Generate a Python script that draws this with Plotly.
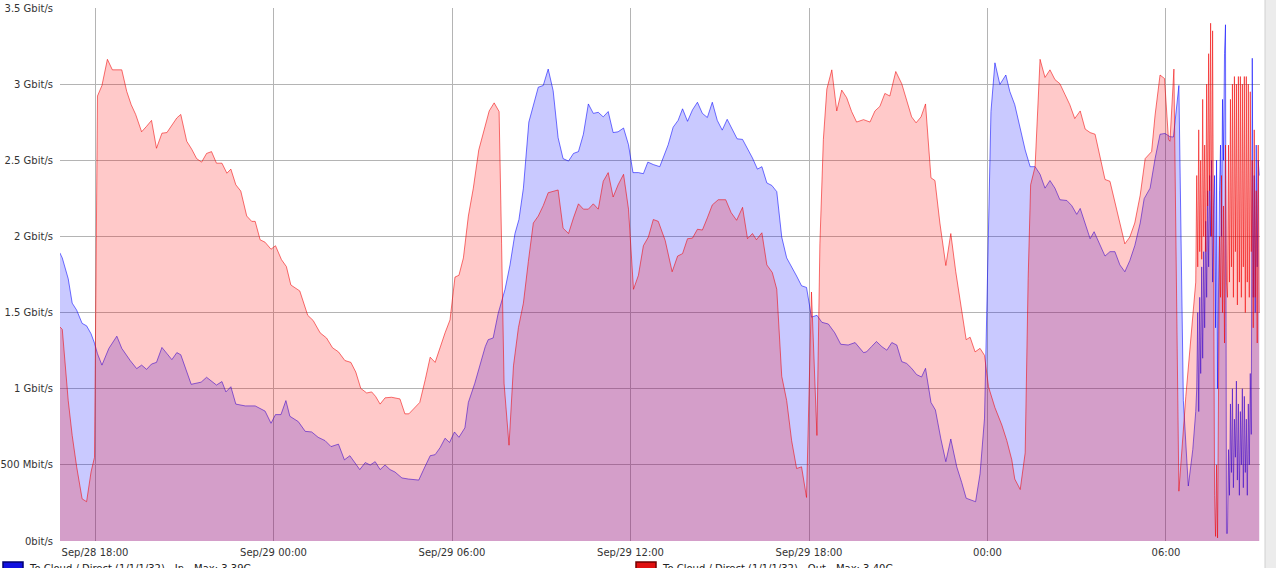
import pandas as pd
import plotly.graph_objects as go

YEAR = "2023-"

# ---------------- data (Gbit/s) ----------------
in_times = [
    "09-28 16:49", "09-28 16:54", "09-28 17:06", "09-28 17:14", "09-28 17:23", "09-28 17:34", "09-28 17:43",
    "09-28 17:52", "09-28 17:59", "09-28 18:05", "09-28 18:14", "09-28 18:28", "09-28 18:44", "09-28 18:54",
    "09-28 19:11", "09-28 19:24", "09-28 19:34", "09-28 19:44", "09-28 19:54", "09-28 20:04", "09-28 20:15",
    "09-28 20:25", "09-28 20:35", "09-28 20:45", "09-28 20:53", "09-28 21:14", "09-28 21:34", "09-28 21:45",
    "09-28 21:55", "09-28 22:05", "09-28 22:16", "09-28 22:24", "09-28 22:34", "09-28 22:44", "09-28 23:03",
    "09-28 23:23", "09-28 23:43", "09-28 23:55",
    "09-29 00:04", "09-29 00:15", "09-29 00:25", "09-29 00:33", "09-29 00:50", "09-29 01:04", "09-29 01:17",
    "09-29 01:30", "09-29 01:44", "09-29 01:56", "09-29 02:11", "09-29 02:23", "09-29 02:34", "09-29 02:44",
    "09-29 02:54", "09-29 03:05", "09-29 03:15", "09-29 03:25", "09-29 03:35", "09-29 03:45", "09-29 03:55",
    "09-29 04:05", "09-29 04:19", "09-29 04:32", "09-29 04:53", "09-29 05:02", "09-29 05:16", "09-29 05:26",
    "09-29 05:36", "09-29 05:46", "09-29 05:55", "09-29 06:05", "09-29 06:14", "09-29 06:26", "09-29 06:33",
    "09-29 06:46", "09-29 06:56", "09-29 07:07", "09-29 07:13", "09-29 07:23", "09-29 07:33", "09-29 07:47",
    "09-29 07:57", "09-29 08:07", "09-29 08:15", "09-29 08:24", "09-29 08:35", "09-29 08:44", "09-29 08:54",
    "09-29 09:04", "09-29 09:14", "09-29 09:24", "09-29 09:34", "09-29 09:44", "09-29 09:55", "09-29 10:05",
    "09-29 10:15", "09-29 10:25", "09-29 10:35", "09-29 10:45", "09-29 10:55", "09-29 11:05", "09-29 11:15",
    "09-29 11:25", "09-29 11:35", "09-29 11:46", "09-29 11:56", "09-29 12:05", "09-29 12:16", "09-29 12:26",
    "09-29 12:35", "09-29 12:46", "09-29 12:59", "09-29 13:16", "09-29 13:26", "09-29 13:36", "09-29 13:45",
    "09-29 13:55", "09-29 14:05", "09-29 14:15", "09-29 14:25", "09-29 14:35", "09-29 14:45", "09-29 14:55",
    "09-29 15:05", "09-29 15:15", "09-29 15:25", "09-29 15:35", "09-29 15:46", "09-29 15:56", "09-29 16:06",
    "09-29 16:16", "09-29 16:25", "09-29 16:35", "09-29 16:45", "09-29 16:55", "09-29 17:05", "09-29 17:15",
    "09-29 17:25", "09-29 17:35", "09-29 17:45", "09-29 17:55", "09-29 18:05", "09-29 18:16", "09-29 18:26",
    "09-29 18:39", "09-29 18:52", "09-29 19:04", "09-29 19:19", "09-29 19:33", "09-29 19:50", "09-29 19:56",
    "09-29 20:06", "09-29 20:16", "09-29 20:27", "09-29 20:37", "09-29 20:47", "09-29 20:57", "09-29 21:07",
    "09-29 21:17", "09-29 21:27", "09-29 21:37", "09-29 21:47", "09-29 21:55", "09-29 22:06", "09-29 22:15",
    "09-29 22:26", "09-29 22:36", "09-29 22:46", "09-29 22:58", "09-29 23:08", "09-29 23:17", "09-29 23:36",
    "09-29 23:45", "09-29 23:54",
    "09-30 00:02", "09-30 00:07", "09-30 00:15", "09-30 00:25", "09-30 00:37", "09-30 00:45", "09-30 00:55",
    "09-30 01:06", "09-30 01:16", "09-30 01:26", "09-30 01:36", "09-30 01:46", "09-30 01:56", "09-30 02:06",
    "09-30 02:16", "09-30 02:26", "09-30 02:40", "09-30 02:50", "09-30 03:00", "09-30 03:07", "09-30 03:17",
    "09-30 03:27", "09-30 03:35", "09-30 03:44", "09-30 03:57", "09-30 04:07", "09-30 04:17", "09-30 04:27",
    "09-30 04:37", "09-30 04:47", "09-30 04:57", "09-30 05:08", "09-30 05:16", "09-30 05:28", "09-30 05:38",
    "09-30 05:48", "09-30 05:58", "09-30 06:08", "09-30 06:15", "09-30 06:26", "09-30 06:35", "09-30 06:45",
    "09-30 06:54", "09-30 07:00",
]
in_values = [
    1.893, 1.859, 1.722, 1.562, 1.516, 1.429, 1.413,
    1.361, 1.299, 1.230, 1.155, 1.265, 1.345, 1.265,
    1.185, 1.132, 1.155, 1.127, 1.162, 1.173, 1.271,
    1.230, 1.191, 1.237, 1.223, 1.029, 1.043, 1.075,
    1.052, 1.024, 1.047, 0.979, 1.013, 0.899, 0.887,
    0.887, 0.853, 0.773,
    0.830, 0.830, 0.922, 0.819, 0.784, 0.720, 0.716,
    0.681, 0.659, 0.620, 0.636, 0.533, 0.560, 0.510,
    0.469, 0.515, 0.499, 0.521, 0.469, 0.499, 0.469,
    0.453, 0.414, 0.407, 0.400, 0.464, 0.560, 0.567,
    0.613, 0.675, 0.647, 0.716, 0.681, 0.743, 0.910,
    1.036, 1.150, 1.276, 1.322, 1.333, 1.493, 1.653,
    1.813, 2.019, 2.111, 2.317, 2.751, 2.865, 2.980,
    2.991, 3.099, 2.957, 2.648, 2.511, 2.495, 2.545,
    2.557, 2.671, 2.870, 2.808, 2.815, 2.785, 2.820,
    2.682, 2.687, 2.712, 2.602, 2.419, 2.419, 2.412,
    2.488, 2.472, 2.458, 2.602, 2.717, 2.762, 2.838,
    2.756, 2.831, 2.881, 2.808, 2.781, 2.881, 2.762,
    2.698, 2.769, 2.705, 2.641, 2.637, 2.579, 2.515,
    2.442, 2.458, 2.351, 2.335, 2.294, 1.996, 1.859,
    1.802, 1.740, 1.676, 1.665, 1.470, 1.482, 1.436,
    1.425, 1.367, 1.292, 1.287, 1.303, 1.237, 1.242,
    1.276, 1.310, 1.276, 1.253, 1.303, 1.287, 1.178,
    1.166, 1.134, 1.093, 1.077, 1.134, 0.910, 0.860,
    0.670, 0.521, 0.670, 0.487, 0.384, 0.281, 0.258,
    0.441, 0.807,
    1.951, 2.820, 3.140, 2.998, 3.060, 2.952, 2.865,
    2.705, 2.568, 2.458, 2.458, 2.408, 2.317, 2.367,
    2.317, 2.241, 2.236, 2.202, 2.145, 2.184, 2.088,
    1.985, 2.031, 1.962, 1.871, 1.900, 1.900, 1.813,
    1.768, 1.841, 1.939, 2.088, 2.248, 2.317, 2.511,
    2.671, 2.676, 2.655, 2.653, 2.991, 0.922, 0.361,
    0.600, 0.850,
]

out_times = [
    "09-28 16:49", "09-28 16:54", "09-28 17:06", "09-28 17:14", "09-28 17:23", "09-28 17:34", "09-28 17:43",
    "09-28 17:52", "09-28 17:59", "09-28 18:05", "09-28 18:14", "09-28 18:25", "09-28 18:35", "09-28 18:54",
    "09-28 19:04", "09-28 19:13", "09-28 19:22", "09-28 19:34", "09-28 19:44", "09-28 19:54", "09-28 20:04",
    "09-28 20:15", "09-28 20:25", "09-28 20:35", "09-28 20:45", "09-28 20:53", "09-28 21:05", "09-28 21:15",
    "09-28 21:25", "09-28 21:35", "09-28 21:45", "09-28 21:55", "09-28 22:05", "09-28 22:16", "09-28 22:26",
    "09-28 22:34", "09-28 22:44", "09-28 22:54", "09-28 23:06", "09-28 23:16", "09-28 23:23", "09-28 23:33",
    "09-28 23:43", "09-28 23:55",
    "09-29 00:04", "09-29 00:16", "09-29 00:26", "09-29 00:35", "09-29 00:53", "09-29 01:09", "09-29 01:20",
    "09-29 01:34", "09-29 01:47", "09-29 01:59", "09-29 02:11", "09-29 02:24", "09-29 02:36", "09-29 02:46",
    "09-29 02:56", "09-29 03:08", "09-29 03:18", "09-29 03:26", "09-29 03:35", "09-29 03:45", "09-29 03:58",
    "09-29 04:15", "09-29 04:25", "09-29 04:33", "09-29 04:44", "09-29 04:55", "09-29 05:06", "09-29 05:16",
    "09-29 05:26", "09-29 05:36", "09-29 05:46", "09-29 05:56", "09-29 06:06", "09-29 06:14", "09-29 06:23",
    "09-29 06:33", "09-29 06:43", "09-29 06:54", "09-29 07:05", "09-29 07:15", "09-29 07:25", "09-29 07:35",
    "09-29 07:40", "09-29 07:45", "09-29 07:55", "09-29 08:04", "09-29 08:14", "09-29 08:24", "09-29 08:34",
    "09-29 08:44", "09-29 08:54", "09-29 09:04", "09-29 09:14", "09-29 09:24", "09-29 09:34", "09-29 09:44",
    "09-29 09:55", "09-29 10:05", "09-29 10:15", "09-29 10:25", "09-29 10:35", "09-29 10:45", "09-29 10:55",
    "09-29 11:05", "09-29 11:15", "09-29 11:25", "09-29 11:35", "09-29 11:46", "09-29 11:56", "09-29 12:06",
    "09-29 12:16", "09-29 12:26", "09-29 12:36", "09-29 12:46", "09-29 12:56", "09-29 13:10", "09-29 13:24",
    "09-29 13:35", "09-29 13:45", "09-29 13:55", "09-29 14:05", "09-29 14:15", "09-29 14:25", "09-29 14:35",
    "09-29 14:45", "09-29 14:57", "09-29 15:12", "09-29 15:23", "09-29 15:34", "09-29 15:46", "09-29 15:56",
    "09-29 16:06", "09-29 16:14", "09-29 16:25", "09-29 16:35", "09-29 16:46", "09-29 16:55", "09-29 17:05",
    "09-29 17:15", "09-29 17:25", "09-29 17:35", "09-29 17:45", "09-29 17:55", "09-29 18:05", "09-29 18:16",
    "09-29 18:22", "09-29 18:29", "09-29 18:36", "09-29 18:46", "09-29 18:56", "09-29 19:06", "09-29 19:16",
    "09-29 19:26", "09-29 19:36", "09-29 19:50", "09-29 20:03", "09-29 20:13", "09-29 20:23", "09-29 20:33",
    "09-29 20:43", "09-29 20:55", "09-29 21:07", "09-29 21:17", "09-29 21:27", "09-29 21:36", "09-29 21:46",
    "09-29 21:55", "09-29 22:06", "09-29 22:14", "09-29 22:24", "09-29 22:36", "09-29 22:46", "09-29 22:56",
    "09-29 23:07", "09-29 23:17", "09-29 23:25", "09-29 23:35", "09-29 23:45", "09-29 23:54",
    "09-30 00:02", "09-30 00:15", "09-30 00:29", "09-30 00:39", "09-30 00:49", "09-30 00:55", "09-30 01:06",
    "09-30 01:16", "09-30 01:22", "09-30 01:27", "09-30 01:36", "09-30 01:46", "09-30 01:56", "09-30 02:06",
    "09-30 02:16", "09-30 02:26", "09-30 02:36", "09-30 02:46", "09-30 02:56", "09-30 03:07", "09-30 03:17",
    "09-30 03:27", "09-30 03:37", "09-30 03:47", "09-30 03:57", "09-30 04:07", "09-30 04:17", "09-30 04:27",
    "09-30 04:37", "09-30 04:47", "09-30 04:57", "09-30 05:08", "09-30 05:18", "09-30 05:31", "09-30 05:38",
    "09-30 05:48", "09-30 05:57", "09-30 06:05", "09-30 06:08", "09-30 06:16", "09-30 06:26", "09-30 06:40",
    "09-30 06:50", "09-30 07:00",
]
out_values = [
    1.406, 1.390, 0.922, 0.693, 0.487, 0.277, 0.258,
    0.453, 0.550, 2.922, 2.991, 3.163, 3.094, 3.094,
    2.952, 2.865, 2.801, 2.687, 2.723, 2.762, 2.579,
    2.678, 2.682, 2.728, 2.778, 2.801, 2.625, 2.573,
    2.511, 2.488, 2.545, 2.557, 2.481, 2.481, 2.415,
    2.442, 2.339, 2.298, 2.134, 2.099, 2.099, 1.978,
    1.962, 1.916,
    1.939, 1.848, 1.802, 1.681, 1.642, 1.482, 1.448,
    1.367, 1.333, 1.269, 1.242, 1.185, 1.173, 1.109,
    1.002, 0.972, 0.979, 0.949, 0.899, 0.940, 0.944,
    0.933, 0.835, 0.835, 0.876, 0.910, 1.059, 1.207,
    1.173, 1.276, 1.367, 1.452, 1.733, 1.745, 1.859,
    2.134, 2.317, 2.568, 2.705, 2.824, 2.877, 2.820,
    1.951, 1.036, 0.629, 1.150, 1.402, 1.562, 1.836,
    2.088, 2.134, 2.202, 2.287, 2.294, 2.305, 2.054,
    2.019, 2.122, 2.214, 2.179, 2.179, 2.214, 2.179,
    2.362, 2.419, 2.259, 2.339, 2.408, 2.179, 1.653,
    1.745, 1.939, 1.996, 2.111, 2.099, 1.973, 1.768,
    1.871, 1.887, 1.985, 1.989, 2.047, 2.042, 2.122,
    2.207, 2.241, 2.241, 2.156, 2.106, 2.191, 1.985,
    2.019, 1.978, 2.024, 1.813, 1.763, 1.653, 1.082,
    0.922, 0.659, 0.476, 0.487, 0.286, 1.635, 0.693,
    1.951, 2.637, 2.968, 3.094, 2.824, 2.961, 2.911,
    2.820, 2.751, 2.767, 2.751, 2.824, 2.854, 2.939,
    2.922, 3.083, 3.003, 2.888, 2.785, 2.746, 2.785,
    2.870, 2.385, 2.367, 2.088, 1.809, 2.019, 1.768,
    1.539, 1.322, 1.338, 1.242, 1.265, 1.219,
    1.013, 0.876, 0.761, 0.659, 0.533, 0.407, 0.338,
    0.579, 1.722, 2.339, 2.458, 3.163, 3.044, 3.094,
    3.030, 3.003, 2.934, 2.865, 2.774, 2.824, 2.705,
    2.682, 2.671, 2.522, 2.374, 2.362, 2.225, 2.088,
    1.951, 1.996, 2.088, 2.271, 2.511, 2.557, 2.797,
    3.060, 3.037, 2.637, 2.625, 3.099, 0.327, 0.950,
    1.350, 1.700,
]

# fine-grained tail (2-minute samples from 09-30 07:02)
tail_start = "09-30 07:02"
in_tail = [
    1.00, 1.50, 0.85, 1.60, 1.10, 1.80, 1.20, 1.90, 1.40, 2.10,
    1.60, 2.30, 1.80, 2.40, 2.00, 2.50, 1.70, 2.20,
    2.40, 1.40, 2.50, 1.00, 2.00,
    2.30, 2.60, 2.00, 2.90, 2.50, 3.20, 3.39, 0.05,
    0.05, 0.60, 0.30, 0.90, 0.45, 1.00, 0.35, 0.80, 0.55, 1.05,
    0.40, 0.90, 0.30, 0.85, 0.50, 1.00, 0.35, 0.95, 0.45, 0.80,
    0.30, 0.90, 0.50, 1.10, 0.70,
    3.17, 1.60, 2.40, 1.50, 2.60, 1.80, 2.50, 2.40,
]
out_tail = [
    2.40, 1.80, 2.70, 1.90, 2.50, 1.85, 2.90, 2.00, 2.60, 1.90,
    3.00, 2.20, 3.20, 2.30, 3.40, 2.00, 3.35, 1.20,
    0.30, 0.03, 0.50, 0.02, 1.50,
    2.00, 1.60, 2.40, 1.50, 2.20, 1.30, 2.60, 1.70,
    1.60, 2.60, 1.70, 2.90, 1.80, 3.00, 1.60, 3.05, 1.90, 3.00,
    1.55, 3.05, 1.70, 3.05, 1.60, 3.00, 1.80, 3.05, 1.50, 3.05,
    1.70, 3.00, 1.60, 2.95, 1.90,
    2.50, 1.40, 2.70, 1.60, 2.30, 1.30, 2.60, 1.50,
]

y_tick_vals = [0, 0.5, 1, 1.5, 2, 2.5, 3, 3.5]
y_tick_text = ["0bit/s", "500 Mbit/s", "1 Gbit/s", "1.5 Gbit/s", "2 Gbit/s",
               "2.5 Gbit/s", "3 Gbit/s", "3.5 Gbit/s"]
x_tick_vals = ["09-28 18:00", "09-29 00:00", "09-29 06:00", "09-29 12:00",
               "09-29 18:00", "09-30 00:00", "09-30 06:00"]
x_tick_text = ["Sep/28 18:00", "Sep/29 00:00", "Sep/29 06:00", "Sep/29 12:00",
               "Sep/29 18:00", "00:00", "06:00"]
series_names = ["To Cloud / Direct (1/1/1/32) - In - Max: 3.39G",
                "To Cloud / Direct (1/1/1/32) - Out - Max: 3.40G"]

# ---------------- build ----------------
def to_dt(lst):
    return pd.to_datetime([YEAR + s for s in lst])

tail_idx_in = pd.date_range(YEAR + tail_start, periods=len(in_tail), freq="2min")
tail_idx_out = pd.date_range(YEAR + tail_start, periods=len(out_tail), freq="2min")

x_in = list(to_dt(in_times)) + list(tail_idx_in)
y_in = in_values + in_tail
x_out = list(to_dt(out_times)) + list(tail_idx_out)
y_out = out_values + out_tail

fig = go.Figure()
fig.add_trace(go.Scatter(
    x=x_in, y=y_in, mode="lines", name=series_names[0],
    line=dict(color="rgba(0,0,255,0.55)", width=1),
    fill="tozeroy", fillcolor="rgba(0,0,255,0.21)",
))
fig.add_trace(go.Scatter(
    x=x_out, y=y_out, mode="lines", name=series_names[1],
    line=dict(color="rgba(240,0,0,0.55)", width=1),
    fill="tozeroy", fillcolor="rgba(255,0,0,0.21)",
))

# plot area geometry in pixels (for paper-coordinate helpers)
PL, PR, PT, PB = 60, 1260, 8, 541
def px(x):
    return (x - PL) / (PR - PL)
def py(y):
    return (PB - y) / (PB - PT)

grid = "#b4b4b4"
legend_colors = [("#1010e0", "#000070"), ("#e01010", "#700000")]
legend_x = [3, 636]

shapes = [dict(type="rect", xref="paper", yref="paper",
               x0=px(1265), x1=px(1277), y0=py(570), y1=py(-2),
               fillcolor="#ececec", line=dict(color="#d0d0d0", width=1), layer="above")]
annotations = []
for (fc, lc), lx, name in zip(legend_colors, legend_x, series_names):
    shapes.append(dict(type="rect", xref="paper", yref="paper",
                       x0=px(lx), x1=px(lx + 20), y0=py(580), y1=py(562),
                       fillcolor=fc, line=dict(color=lc, width=1.5), layer="above"))
    annotations.append(dict(xref="paper", yref="paper", x=px(lx + 24), y=py(568),
                            xanchor="left", yanchor="middle", showarrow=False,
                            text=name, font=dict(size=10, color="#222222")))

fig.update_layout(
    width=1276, height=568,
    margin=dict(l=PL, r=1276 - PR, t=PT, b=568 - PB, autoexpand=False),
    paper_bgcolor="white", plot_bgcolor="white",
    font=dict(family="DejaVu Sans", size=10, color="#333333"),
    showlegend=False,
    xaxis=dict(
        type="date", automargin=False,
        range=[YEAR + "09-28 16:49:24", YEAR + "09-30 09:09:36"],
        tickvals=to_dt(x_tick_vals), ticktext=x_tick_text,
        showgrid=True, gridcolor=grid, gridwidth=1,
        showline=False, zeroline=False, ticks="outside", ticklen=2,
        tickcolor="rgba(0,0,0,0)", tickfont=dict(size=10),
    ),
    yaxis=dict(
        automargin=False,
        range=[0, 3.5], tickvals=y_tick_vals, ticktext=y_tick_text,
        showgrid=True, gridcolor=grid, gridwidth=1,
        showline=False, zeroline=False, ticks="outside", ticklen=4,
        tickcolor="rgba(0,0,0,0)", tickfont=dict(size=10),
    ),
    shapes=shapes,
    annotations=annotations,
)

fig.write_html("out.html")
